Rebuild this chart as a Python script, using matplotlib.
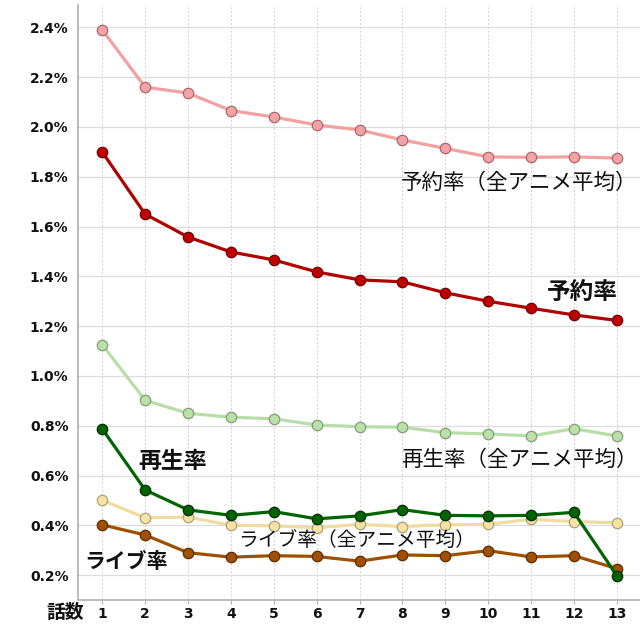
import matplotlib
matplotlib.use('Agg')
import matplotlib.pyplot as plt
from matplotlib.ticker import FuncFormatter

plt.rcParams['font.family'] = ['DejaVu Sans', 'Noto Sans CJK JP']

# episode numbers
episodes = list(range(1, 14))

# reservation rate (all-anime average) and this title
yoyaku_avg = [2.39, 2.16, 2.136, 2.066, 2.04, 2.008, 1.988, 1.948, 1.914, 1.88, 1.878, 1.88, 1.875]
yoyaku = [1.899, 1.65, 1.558, 1.498, 1.466, 1.418, 1.386, 1.378, 1.334, 1.3, 1.272, 1.245, 1.223]

# playback rate
saisei_avg = [1.125, 0.902, 0.85, 0.834, 0.828, 0.803, 0.796, 0.794, 0.772, 0.767, 0.759, 0.788, 0.759]
saisei = [0.787, 0.542, 0.462, 0.44, 0.455, 0.426, 0.438, 0.463, 0.44, 0.438, 0.44, 0.452, 0.198]

# live rate
live_avg = [0.501, 0.43, 0.433, 0.4, 0.398, 0.39, 0.404, 0.395, 0.402, 0.404, 0.424, 0.415, 0.41]
live = [0.402, 0.361, 0.29, 0.272, 0.278, 0.275, 0.256, 0.281, 0.278, 0.298, 0.273, 0.278, 0.226]

yticks = [0.2, 0.4, 0.6, 0.8, 1.0, 1.2, 1.4, 1.6, 1.8, 2.0, 2.2, 2.4]

fig = plt.figure(figsize=(6.4, 6.4), dpi=100)
ax = fig.add_axes([0.1223, 0.0625, 0.8777, 0.9297])

# (values, line colour, marker face, marker edge)
series = [
    (yoyaku_avg, '#F2A0A0', '#F0A4A8', '#B06666'),
    (saisei_avg, '#B8DEA8', '#BBE0AA', '#7FA070'),
    (live_avg, '#F0DCA0', '#F4E2A6', '#B0A070'),
    (live, '#9C5000', '#A05000', '#5A2C00'),
    (saisei, '#006400', '#006400', '#002E00'),
    (yoyaku, '#B00000', '#C00000', '#700000'),
]
for vals, lc, mfc, mec in series:
    ax.plot(episodes, vals, color=lc, lw=2.3, marker='o', ms=7.5,
            mfc=mfc, mec=mec, mew=0.9, zorder=3)

ax.set_xlim(0.44, 13.54)
ax.set_ylim(0.1, 2.49)
ax.set_xticks(episodes)
ax.set_yticks(yticks)
ax.yaxis.set_major_formatter(FuncFormatter(lambda v, p: f'{v:.1f}%'))

ax.grid(axis='y', color='#DCDCDC', lw=0.9, ls='-')
ax.grid(axis='x', color='#D0D0D0', lw=0.7, ls=(0, (2, 2)))
ax.set_axisbelow(True)

for s in ['top', 'right']:
    ax.spines[s].set_visible(False)
for s in ['left', 'bottom']:
    ax.spines[s].set_color('#B0B0B0')
    ax.spines[s].set_linewidth(1.2)

ax.tick_params(axis='y', length=0, pad=7, labelsize=10)
ax.tick_params(axis='x', length=3, color='#B0B0B0', pad=2, labelsize=10)
for lbl in ax.get_xticklabels() + ax.get_yticklabels():
    lbl.set_fontweight('bold')
    lbl.set_color('#111111')

cjk = ['Noto Sans CJK JP', 'DejaVu Sans']
ax.text(13.48, 1.775, '予約率（全アニメ平均）', fontsize=15.5, family=cjk,
        ha='right', va='center', color='#111111')
ax.text(13.03, 1.337, '予約率', fontsize=17, family=cjk, fontweight='bold',
        ha='right', va='center', color='#111111')
ax.text(13.48, 0.662, '再生率（全アニメ平均）', fontsize=15.5, family=cjk,
        ha='right', va='center', color='#111111')
ax.text(1.83, 0.655, '再生率', fontsize=16.5, family=cjk, fontweight='bold',
        ha='left', va='center', color='#111111')
ax.text(4.18, 0.334, 'ライブ率（全アニメ平均）', fontsize=14.2, family=cjk,
        ha='left', va='center', color='#111111')
ax.text(0.58, 0.254, 'ライブ率', fontsize=15, family=cjk, fontweight='bold',
        ha='left', va='center', color='#111111')

fig.text(0.073, 0.043, '話数', fontsize=13.5, family=cjk, fontweight='bold',
         ha='left', va='center', color='#111111')

fig.savefig('out.png', dpi=100)
